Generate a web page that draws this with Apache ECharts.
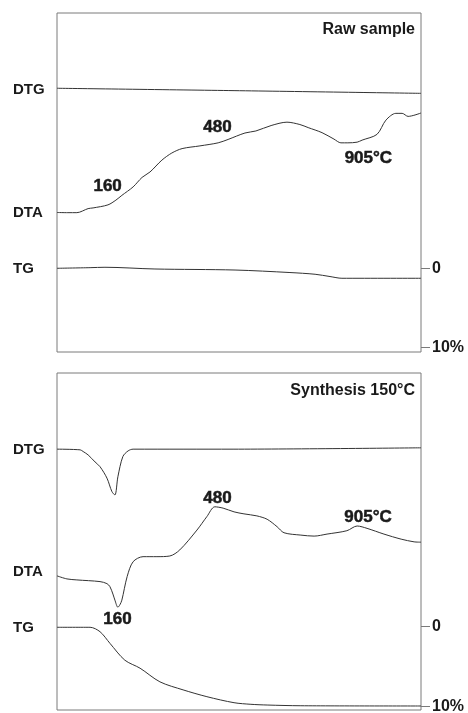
<!DOCTYPE html>
<html>
<head>
<meta charset="utf-8">
<script src="https://cdn.jsdelivr.net/npm/echarts@6/dist/echarts.min.js"></script>
<style>
  html, body { margin: 0; padding: 0; background: #fff; }
  #main { width: 468px; height: 713px; }
</style>
</head>
<body>
<div id="main"></div>
<script>
// temperature in °C (x), DTG / DTA in arbitrary units (0..100 of panel), TG in % mass loss
var curveLabels = ["DTG", "DTA", "TG"];
var curveLabelPos = [77.3, 41, 24.5];
var tgTicks = [0, 10];
var panelTitles = ["Raw sample", "Synthesis 150°C"];

var rawDTG = [[0, 77.8], [535, 77.1], [1100, 76.3]];
var rawDTA = [
  [0, 41.15], [33, 41.1], [60, 41.1], [94, 42.3], [109, 42.5], [154, 43.4], [178, 44.8],
  [196, 46.2], [230, 48.7], [257, 51.5], [281, 53.1], [317, 56.6], [347, 58.7], [378, 60.0],
  [432, 60.8], [487, 61.7], [517, 62.7], [568, 64.6], [601, 65.2], [647, 66.8], [695, 67.8],
  [734, 67.1], [759, 66.2], [801, 64.7], [837, 62.8], [858, 61.7], [879, 61.7], [907, 61.9],
  [922, 62.5], [967, 64.2], [994, 68.4], [1024, 70.4], [1043, 70.4], [1061, 69.5], [1100, 70.5]
];
var rawTG = [
  [0, -0.05], [100, -0.13], [145, -0.18], [296, 0.04], [538, 0.17], [704, 0.49],
  [780, 0.71], [825, 1.0], [861, 1.22], [1100, 1.22]
];
var rawPeaks = [[153, 49.0, "160"], [485, 66.2, "480"], [941, 57.1, "905°C"]];

var synDTG = [
  [0, 77.4], [70, 77.2], [79, 76.7], [94, 75.7], [115, 73.6], [130, 72.2], [151, 68.8],
  [166, 64.8], [175, 63.8], [184, 69.2], [199, 75.2], [215, 76.9], [230, 77.4],
  [532, 77.4], [1100, 77.8]
];
var synDTA = [
  [0, 39.8], [30, 38.9], [60, 38.6], [130, 38.1], [151, 37.5], [160, 36.6], [169, 34.4],
  [175, 32.6], [184, 30.5], [190, 31.2], [196, 32.6], [212, 39.6], [230, 44.0], [260, 45.5],
  [302, 45.5], [341, 45.7], [371, 47.5], [423, 53.4], [453, 57.4], [477, 60.3], [502, 59.9],
  [535, 58.8], [565, 58.2], [604, 57.6], [635, 56.6], [665, 54.4], [686, 52.6], [737, 51.9],
  [777, 51.6], [816, 52.2], [876, 53.2], [907, 54.6], [937, 53.9], [988, 52.2], [1040, 50.7],
  [1079, 49.9], [1100, 49.8]
];
var synTG = [
  [0, 0.1], [100, 0.1], [130, 0.65], [160, 2.1], [205, 4.2], [251, 5.2], [311, 6.9],
  [381, 7.9], [453, 8.75], [535, 9.5], [586, 9.7], [635, 9.79], [737, 9.88], [1100, 9.91]
];
var synPeaks = [[183, 27.0, "160"], [485, 62.8, "480"], [940, 57.1, "905°C"]];

var chart = echarts.init(document.getElementById("main"), null, { renderer: "canvas" });
var ink = "#333";
var frame = "#7a7a7a";
var font = "Liberation Sans, Arial, sans-serif";

function lineSeries(data, xi, yi, peaks) {
  var s = {
    type: "line",
    xAxisIndex: xi,
    yAxisIndex: yi,
    data: data,
    smooth: 0.3,
    showSymbol: false,
    silent: true,
    lineStyle: { color: ink, width: 1 }
  };
  if (peaks) {
    s.markPoint = {
      symbol: "circle",
      symbolSize: 0,
      silent: true,
      label: {
        show: true,
        position: "inside",
        formatter: "{b}",
        color: "#1a1a1a",
        fontFamily: font,
        fontWeight: "bold",
        fontSize: 17,
        textBorderColor: "#1a1a1a",
        textBorderWidth: 0.5
      },
      data: peaks.map(function (p) { return { name: p[2], coord: [p[0], p[1]] }; })
    };
  }
  return s;
}

function leftAxis(gi) {
  return {
    type: "value", gridIndex: gi, position: "left", min: 0, max: 100,
    axisLine: { show: false }, axisTick: { show: false }, splitLine: { show: false },
    axisLabel: {
      customValues: curveLabelPos,
      align: "left",
      margin: 44,
      color: "#1a1a1a",
      fontFamily: font,
      fontWeight: "bold",
      fontSize: 15,
      formatter: function (v) { return curveLabels[curveLabelPos.indexOf(v)]; }
    }
  };
}

function rightAxis(gi, min, max) {
  return {
    type: "value", gridIndex: gi, position: "right", inverse: true, min: min, max: max,
    axisLine: { show: false },
    splitLine: { show: false },
    axisTick: { show: true, customValues: tgTicks, length: 9, lineStyle: { color: frame, width: 1 } },
    axisLabel: {
      customValues: tgTicks,
      margin: 11,
      color: "#1a1a1a",
      fontFamily: font,
      fontWeight: "bold",
      fontSize: 16,
      formatter: function (v) { return v === 0 ? "0" : v + "%"; }
    }
  };
}

function xAxis(gi) {
  return { type: "value", gridIndex: gi, min: 0, max: 1100, show: false };
}

var option = {
  backgroundColor: "#fff",
  animation: false,
  title: [
    { text: panelTitles[0], right: 53, top: 22, padding: 0,
      textStyle: { fontFamily: font, fontWeight: "bold", fontSize: 16, color: "#1a1a1a", lineHeight: 16 } },
    { text: panelTitles[1], right: 53, top: 383, padding: 0,
      textStyle: { fontFamily: font, fontWeight: "bold", fontSize: 16, color: "#1a1a1a", lineHeight: 16 } }
  ],
  grid: [
    { left: 57, top: 13, width: 364, height: 339, show: true, borderColor: frame, borderWidth: 1,
      outerBoundsMode: "none", containLabel: false },
    { left: 57, top: 373, width: 364, height: 337, show: true, borderColor: frame, borderWidth: 1,
      outerBoundsMode: "none", containLabel: false }
  ],
  xAxis: [xAxis(0), xAxis(1)],
  yAxis: [
    leftAxis(0),
    rightAxis(0, -32.53, 10.6),
    leftAxis(1),
    rightAxis(1, -31.6, 10.41)
  ],
  series: [
    lineSeries(rawDTG, 0, 0),
    lineSeries(rawDTA, 0, 0, rawPeaks),
    lineSeries(rawTG, 0, 1),
    lineSeries(synDTG, 1, 2),
    lineSeries(synDTA, 1, 2, synPeaks),
    lineSeries(synTG, 1, 3)
  ]
};

chart.setOption(option);
</script>
</body>
</html>
